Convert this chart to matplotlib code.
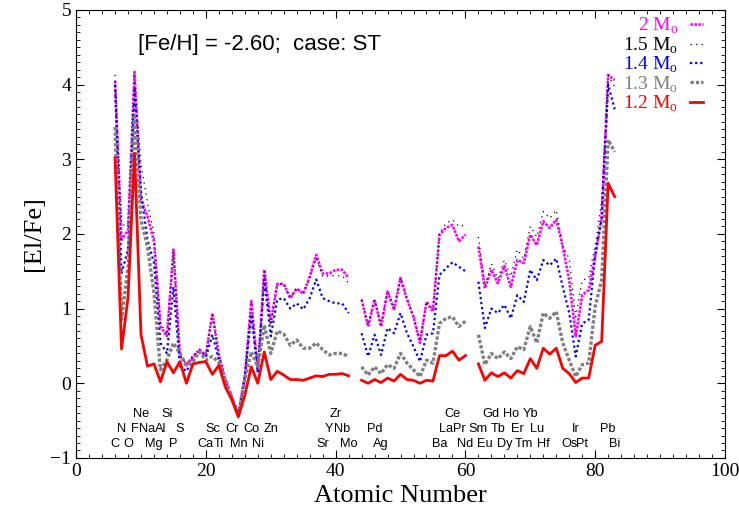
import numpy as np
import matplotlib
matplotlib.use('Agg')
import matplotlib.pyplot as plt
from matplotlib.ticker import MultipleLocator

nan = np.nan

# atomic numbers C (6) .. Bi (83); Tc (43) and Pm (61) left out
Z = np.arange(6, 84)

m20 = [4.05, 1.92, 2.05, 4.17, 2.45, 2.24, 1.90, 0.76, 0.63, 1.79,
       0.36, 0.24, 0.36, 0.45, 0.38, 0.94, 0.38, 0.05, -0.18, -0.42,
       0.09, 1.10, 0.16, 1.52, 0.81, 1.33, 1.33, 1.14, 1.27, 1.20,
       1.43, 1.72, 1.47, 1.47, 1.52, 1.52, 1.41, nan, 1.12, 0.76,
       1.12, 0.76, 1.23, 0.98, 1.41, 1.12, 0.89, 0.54, 1.09, 0.96,
       1.99, 2.08, 2.12, 1.90, 1.99, nan, 1.83, 1.27, 1.52, 1.34,
       1.57, 1.29, 1.65, 1.61, 1.99, 1.85, 2.17, 2.08, 2.19, 1.83,
       1.38, 0.63, 1.18, 1.25, 1.70, 2.23, 4.13, 4.06]
m15 = [4.13, 2.12, 2.12, 4.10, 2.93, 2.42, 2.01, 0.81, 0.65, 1.76,
       0.38, 0.26, 0.36, 0.45, 0.38, 0.92, 0.38, 0.05, -0.18, -0.42,
       0.09, 1.10, 0.16, 1.50, 0.80, 1.33, 1.33, 1.14, 1.27, 1.20,
       1.40, 1.68, 1.43, 1.44, 1.44, 1.44, 1.34, nan, 1.12, 0.78,
       1.12, 0.78, 1.25, 1.00, 1.42, 1.14, 0.90, 0.56, 1.10, 0.98,
       2.01, 2.14, 2.19, 2.10, 2.12, nan, 1.96, 1.30, 1.60, 1.40,
       1.65, 1.43, 1.79, 1.67, 2.10, 1.96, 2.30, 2.21, 2.32, 1.83,
       1.67, 0.89, 1.38, 1.41, 1.85, 2.43, 4.12, 3.97]
m14 = [4.00, 1.47, 1.79, 3.93, 2.57, 1.92, 1.61, 0.54, 0.40, 1.29,
       0.23, 0.16, 0.33, 0.42, 0.35, 0.65, 0.31, 0.03, -0.18, -0.42,
       0.09, 0.92, 0.15, 1.39, 0.63, 1.12, 1.14, 1.00, 1.07, 0.99,
       1.14, 1.39, 1.14, 1.10, 1.07, 1.07, 0.94, nan, 0.67, 0.36,
       0.65, 0.38, 0.74, 0.67, 0.94, 0.67, 0.49, 0.29, 0.65, 0.67,
       1.45, 1.54, 1.62, 1.56, 1.50, nan, 1.36, 0.74, 1.00, 0.94,
       1.05, 0.87, 1.18, 1.09, 1.52, 1.38, 1.65, 1.58, 1.67, 1.29,
       0.94, 0.36, 0.80, 0.85, 1.72, 2.20, 4.00, 3.67]
m13 = [3.43, 0.85, 1.56, 3.57, 2.19, 1.83, 1.21, 0.18, 0.31, 0.54,
       0.40, 0.24, 0.29, 0.42, 0.31, 0.36, 0.28, 0.05, -0.20, -0.43,
       0.05, 0.42, 0.22, 0.78, 0.40, 0.70, 0.66, 0.51, 0.58, 0.47,
       0.47, 0.54, 0.45, 0.38, 0.40, 0.40, 0.36, nan, 0.22, 0.11,
       0.22, 0.13, 0.25, 0.20, 0.40, 0.27, 0.18, 0.09, 0.31, 0.27,
       0.80, 0.87, 0.89, 0.76, 0.83, nan, 0.65, 0.25, 0.40, 0.33,
       0.42, 0.33, 0.49, 0.45, 0.76, 0.54, 0.94, 0.87, 0.96, 0.54,
       0.31, 0.09, 0.25, 0.27, 1.03, 1.38, 3.26, 3.10]
m12 = [3.02, 0.46, 1.15, 3.08, 0.65, 0.23, 0.26, 0.02, 0.29, 0.14,
       0.29, 0.00, 0.26, 0.28, 0.29, 0.12, 0.24, -0.05, -0.22, -0.45,
       -0.16, 0.22, 0.00, 0.42, 0.05, 0.16, 0.11, 0.05, 0.05, 0.04,
       0.07, 0.10, 0.09, 0.12, 0.12, 0.13, 0.10, nan, 0.04, 0.00,
       0.05, 0.01, 0.07, 0.03, 0.12, 0.05, 0.04, 0.00, 0.04, 0.03,
       0.37, 0.37, 0.43, 0.31, 0.37, nan, 0.26, 0.04, 0.14, 0.09,
       0.14, 0.07, 0.17, 0.13, 0.33, 0.20, 0.47, 0.39, 0.47, 0.20,
       0.13, 0.01, 0.07, 0.07, 0.51, 0.56, 2.68, 2.50]

# element names written under the curves, in three staggered rows
el_names = ['C', 'N', 'O', 'F', 'Ne', 'Na', 'Mg', 'Al', 'Si', 'P', 'S',
            'Ca', 'Sc', 'Ti', 'Cr', 'Mn', 'Co', 'Ni', 'Zn',
            'Sr', 'Y', 'Zr', 'Nb', 'Mo', 'Pd', 'Ag',
            'Ba', 'La', 'Ce', 'Pr', 'Nd', 'Sm', 'Eu', 'Gd', 'Tb', 'Dy',
            'Ho', 'Er', 'Tm', 'Yb', 'Lu', 'Hf', 'Os', 'Ir', 'Pt', 'Pb', 'Bi']
el_z = [6, 7, 8, 9, 10, 11, 12, 13, 14, 15, 16,
        20, 21, 22, 24, 25, 27, 28, 30,
        38, 39, 40, 41, 42, 46, 47,
        56, 57, 58, 59, 60, 62, 63, 64, 65, 66,
        67, 68, 69, 70, 71, 72, 76, 77, 78, 82, 83]
el_row = [3, 2, 3, 2, 1, 2, 3, 2, 1, 3, 2,
          3, 2, 3, 2, 3, 2, 3, 2,
          3, 2, 1, 2, 3, 2, 3,
          3, 2, 1, 2, 3, 2, 3, 1, 2, 3,
          1, 2, 3, 1, 2, 3, 3, 2, 3, 2, 3]
row_y = {1: -0.41, 2: -0.61, 3: -0.81}

masses = ['2', '1.5', '1.4', '1.3', '1.2']
series = [m20, m15, m14, m13, m12]
colors = ['#ff00ff', 'black', '#0000ff', '#808080', '#ff0000']
styles = [(0, (1, 0.5)), (0, (1, 3.5)), (0, (1, 1.3)), (0, (1, 0.6)), '-']
widths = [1.9, 0.9, 1.6, 2.4, 2.0]

plt.rcParams['font.family'] = 'Liberation Serif'
plt.rcParams['mathtext.fontset'] = 'custom'
plt.rcParams['mathtext.rm'] = 'Liberation Serif'

fig = plt.figure(figsize=(7.39, 5.21), dpi=100)
ax = fig.add_axes([0.103, 0.121, 0.878, 0.860])

for vals, c, ls, lw in zip(series, colors, styles, widths):
    ax.plot(Z, vals, color=c, linestyle=ls, linewidth=lw)

for name, z, r in zip(el_names, el_z, el_row):
    ax.text(z, row_y[r], name, ha='center', va='center', fontsize=9.2,
            family='Liberation Sans')

ax.text(0.095, 0.922, '[Fe/H] = -2.60;  case: ST', transform=ax.transAxes,
        family='Liberation Sans', fontsize=16, ha='left', va='center')

# key: coloured label on the left, line sample on the right
key_y = [0.964, 0.920, 0.877, 0.833, 0.790]
for m, c, ls, lw, ky in zip(masses, colors, styles, widths, key_y):
    ax.text(0.928, ky, m + r' M$_\mathregular{o}$', color=c, fontsize=14,
            transform=ax.transAxes, ha='right', va='center')
    ax.plot([0.946, 0.966], [ky + 0.005, ky + 0.005], color=c, linestyle=ls,
            linewidth=lw, transform=ax.transAxes)

ax.set_xlim(0, 100)
ax.set_ylim(-1, 5)
ax.xaxis.set_major_locator(MultipleLocator(20))
ax.xaxis.set_minor_locator(MultipleLocator(2))
ax.yaxis.set_major_locator(MultipleLocator(1))
ax.yaxis.set_minor_locator(MultipleLocator(0.1))
ax.tick_params(which='both', direction='in', top=True, right=True, labelsize=14)
ax.tick_params(which='major', length=6)
ax.tick_params(which='minor', length=3)
ax.set_xlabel('Atomic Number', fontsize=19)
ax.set_ylabel('[El/Fe]', fontsize=19)

fig.savefig('out.png', dpi=100)
